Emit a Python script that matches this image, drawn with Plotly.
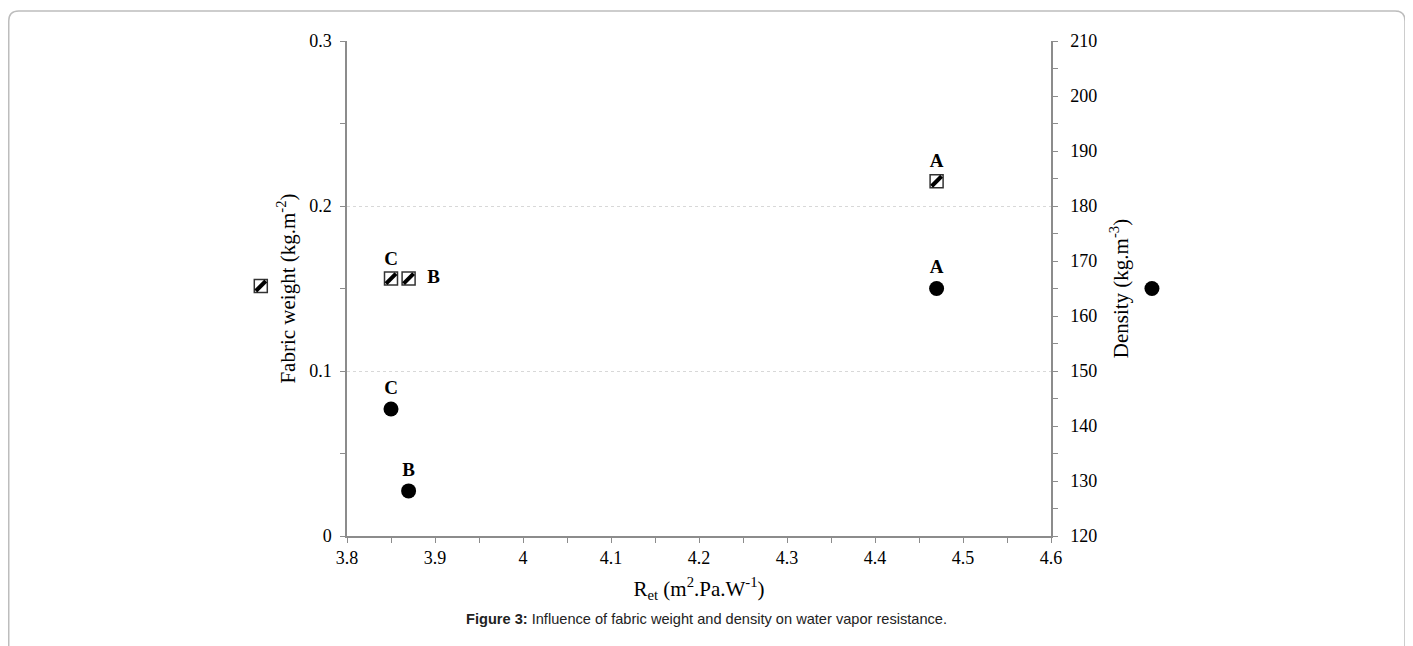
import plotly.graph_objects as go

# ---- data ----
fabric_labels = ["A", "B", "C"]
ret_values = [4.47, 3.87, 3.85]
fabric_weight = [0.215, 0.156, 0.156]
density = [165.0, 128.2, 143.1]

x_range = [3.8, 4.6]
y_range = [0, 0.3]
y2_range = [120, 210]

serif = "Liberation Serif"
axis_col = "#8c8c8c"

FW, FH = 1405, 638          # figure size (page body has an 8px margin)
L, T = 339, 33              # plot-area top-left in figure coords
R_EDGE, B_EDGE = 1043, 528  # plot-area bottom-right in figure coords
PW, PH = float(R_EDGE - L), float(B_EDGE - T)

fig = go.Figure()

text_pos_sq = ["top center", "middle right", "top center"]
sq_text = []
for t, p in zip(fabric_labels, text_pos_sq):
    pad = "\u00a0\u00a0" if p == "middle right" else ""
    sq_text.append(pad + "<b>%s</b>" % t)

# fabric weight: hatched squares (base square + diagonal overlay)
fig.add_trace(go.Scatter(
    x=ret_values, y=fabric_weight, mode="markers+text",
    text=sq_text, textposition=text_pos_sq,
    textfont=dict(family=serif, size=19, color="black"),
    marker=dict(symbol="square", size=13, color="white",
                line=dict(color="#333333", width=1.5)),
    name=" ", legend="legend", showlegend=True, cliponaxis=False,
))
fig.add_trace(go.Scatter(
    x=ret_values, y=fabric_weight, mode="markers",
    marker=dict(symbol="line-ne", size=10,
                line=dict(color="black", width=4)),
    name=" ", legend="legend2", showlegend=True, cliponaxis=False,
))

# density: circles on right axis
fig.add_trace(go.Scatter(
    x=ret_values, y=density, mode="markers+text", yaxis="y2",
    text=["<b>%s</b>" % t for t in fabric_labels], textposition="top center",
    textfont=dict(family=serif, size=19, color="black"),
    marker=dict(symbol="circle", size=15, color="black"),
    name=" ", legend="legend3", showlegend=True, cliponaxis=False,
))

legend_common = dict(bgcolor="rgba(0,0,0,0)", borderwidth=0,
                     itemsizing="trace", font=dict(size=12),
                     xanchor="left", yanchor="middle", itemwidth=30)
sq_leg_x = -0.175 + 17 / PW

fig.update_layout(
    width=FW, height=FH,
    margin=dict(l=L, r=FW - R_EDGE, t=T, b=FH - B_EDGE),
    paper_bgcolor="white", plot_bgcolor="white",
    font=dict(family=serif, size=18, color="black"),
    xaxis=dict(
        range=x_range, dtick=0.1, tick0=3.8,
        showline=True, linecolor=axis_col, linewidth=1.5,
        ticks="outside", ticklen=5, tickcolor=axis_col,
        minor=dict(dtick=0.05, ticks="outside", ticklen=5, tickcolor=axis_col),
        showgrid=False, zeroline=False,
        tickfont=dict(family=serif, size=18, color="black"),
        title=dict(text="R<sub>et</sub> (m<sup>2</sup>.Pa.W<sup>-1</sup>)",
                   font=dict(family=serif, size=21), standoff=14),
    ),
    yaxis=dict(
        range=y_range, dtick=0.1, tick0=0,
        showline=True, linecolor=axis_col, linewidth=1.5,
        ticks="outside", ticklen=5, tickcolor=axis_col,
        minor=dict(dtick=0.05, ticks="outside", ticklen=5, tickcolor=axis_col),
        showgrid=True, gridcolor="#d8d8d8", griddash="dot", gridwidth=1,
        zeroline=False, ticklabelstandoff=5,
        tickfont=dict(family=serif, size=18, color="black"),
        title=dict(text="Fabric weight (kg.m<sup>-2</sup>)",
                   font=dict(family=serif, size=21), standoff=8),
    ),
    yaxis2=dict(
        range=y2_range, dtick=10, tick0=120, overlaying="y", side="right",
        showline=True, linecolor=axis_col, linewidth=1.5,
        ticks="outside", ticklen=5, tickcolor=axis_col,
        minor=dict(dtick=5, ticks="outside", ticklen=5, tickcolor=axis_col),
        showgrid=False, zeroline=False, ticklabelstandoff=9,
        tickfont=dict(family=serif, size=18, color="black"),
        title=dict(text="Density (kg.m<sup>-3</sup>)",
                   font=dict(family=serif, size=21), standoff=17),
    ),
    legend=dict(x=sq_leg_x, y=0.505, **legend_common),
    legend2=dict(x=sq_leg_x, y=0.505, **legend_common),
    legend3=dict(x=1.088 + 19 / PW, y=0.500, **legend_common),
    showlegend=True,
)

# caption
fig.add_annotation(
    text="<b>Figure 3:</b> Influence of fabric weight and density on water vapor resistance.",
    xref="paper", yref="paper", x=(698.5 - L) / PW, y=(B_EDGE - 611) / PH,
    xanchor="center", yanchor="middle", showarrow=False,
    font=dict(family="Liberation Sans, Arial, sans-serif", size=14.6, color="#222222"),
)

# rounded frame around the figure
x0, x1 = (0.75 - L) / PW, (1397 - L) / PW
yt, yb = (B_EDGE - 3) / PH, (B_EDGE - 700) / PH
rx, ry = 10 / PW, 10 / PH
path = (f"M {x0},{yb} L {x0},{yt - ry} Q {x0},{yt} {x0 + rx},{yt} "
        f"L {x1 - rx},{yt} Q {x1},{yt} {x1},{yt - ry} L {x1},{yb}")
fig.add_shape(type="path", path=path, xref="paper", yref="paper",
              line=dict(color="#bdbdbd", width=1.5), layer="below")

fig.write_html("out.html")
